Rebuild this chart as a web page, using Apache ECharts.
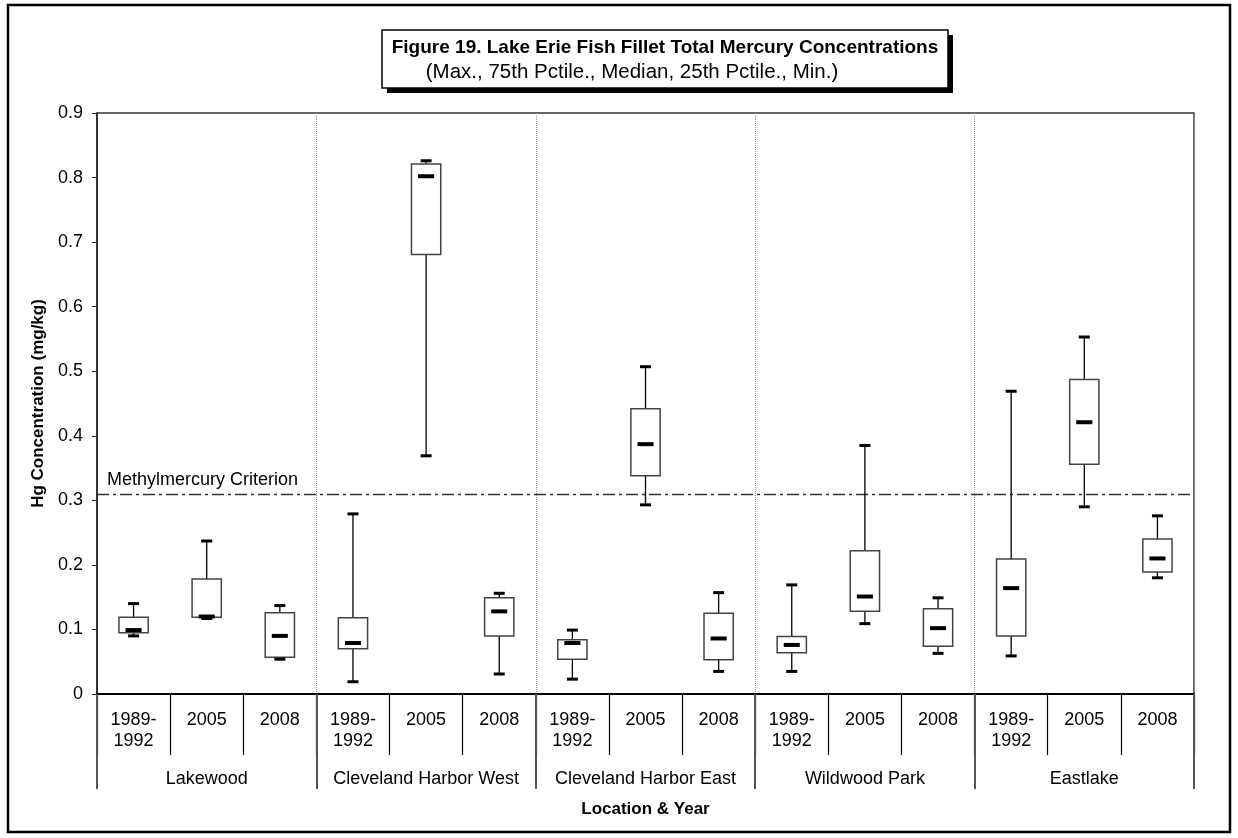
<!DOCTYPE html>
<html>
<head>
<meta charset="utf-8">
<script src="https://cdn.jsdelivr.net/npm/echarts@6/dist/echarts.min.js"></script>
<style>html,body{margin:0;padding:0;background:#fff;}#c{width:1238px;height:838px;}</style>
</head>
<body>
<div id="c"></div>
<script>
const yearLabels = ['1989-\n1992','2005','2008','1989-\n1992','2005','2008','1989-\n1992','2005','2008','1989-\n1992','2005','2008','1989-\n1992','2005','2008'];
const locations = ['Lakewood','Cleveland Harbor West','Cleveland Harbor East','Wildwood Park','Eastlake'];
const minVals = [0.090, 0.117, 0.054, 0.019, 0.369, 0.031, 0.023, 0.293, 0.035, 0.035, 0.109, 0.063, 0.059, 0.290, 0.180];
const q1Vals  = [0.095, 0.119, 0.057, 0.070, 0.681, 0.090, 0.054, 0.338, 0.053, 0.064, 0.128, 0.074, 0.090, 0.356, 0.189];
const medVals = [0.099, 0.120, 0.090, 0.079, 0.802, 0.128, 0.079, 0.387, 0.086, 0.076, 0.151, 0.102, 0.164, 0.421, 0.210];
const q3Vals  = [0.119, 0.178, 0.126, 0.118, 0.821, 0.149, 0.084, 0.442, 0.125, 0.089, 0.222, 0.132, 0.209, 0.487, 0.240];
const maxVals = [0.140, 0.237, 0.137, 0.279, 0.826, 0.156, 0.099, 0.507, 0.157, 0.169, 0.385, 0.149, 0.469, 0.553, 0.276];
const criterion = 0.307;
const yTicks = [0, 0.1, 0.2, 0.3, 0.4, 0.5, 0.6, 0.7, 0.8, 0.9];

const FONT = 'Liberation Sans, Arial, sans-serif';
const data = yearLabels.map((c, i) => [i, minVals[i], q1Vals[i], medVals[i], q3Vals[i], maxVals[i]]);

const chart = echarts.init(document.getElementById('c'), null, {renderer: 'canvas'});

function renderItem(params, api) {
  const i = api.value(0);
  const pLo = api.coord([i, api.value(1)]);
  const pQ1 = api.coord([i, api.value(2)]);
  const pMed = api.coord([i, api.value(3)]);
  const pQ3 = api.coord([i, api.value(4)]);
  const pHi = api.coord([i, api.value(5)]);
  const cw = api.size([1, 0])[0];
  const bw = cw * 0.4;
  const mw = cw * 0.22;
  const capw = cw * 0.15;
  const x = pMed[0];
  const lineStyle = {stroke: '#000', lineWidth: 1.3};
  return {
    type: 'group',
    children: [
      {type: 'line', shape: {x1: x, y1: pHi[1], x2: x, y2: pQ3[1]}, style: lineStyle},
      {type: 'line', shape: {x1: x, y1: pQ1[1], x2: x, y2: pLo[1]}, style: lineStyle},
      {type: 'rect', shape: {x: x - bw / 2, y: pQ3[1], width: bw, height: pQ1[1] - pQ3[1]},
        style: {fill: '#fff', stroke: '#444', lineWidth: 1.5}},
      {type: 'rect', shape: {x: x - capw / 2, y: pHi[1] - 1.5, width: capw, height: 3}, style: {fill: '#000'}},
      {type: 'rect', shape: {x: x - capw / 2, y: pLo[1] - 1.5, width: capw, height: 3}, style: {fill: '#000'}},
      {type: 'rect', shape: {x: x - mw / 2, y: pMed[1] - 2, width: mw, height: 4}, style: {fill: '#000'}}
    ]
  };
}

const option = {
  animation: false,
  backgroundColor: '#fff',
  textStyle: {fontFamily: FONT},
  grid: {left: 97, right: 44, top: 113, bottom: 144, show: true, borderColor: '#333', borderWidth: 1.5, backgroundColor: 'transparent'},
  xAxis: [
    {
      type: 'category', data: yearLabels, position: 'bottom',
      axisLine: {show: true, lineStyle: {color: '#000', width: 2}},
      axisTick: {show: true, interval: 0, length: 61, lineStyle: {color: '#000', width: 1.2}},
      axisLabel: {interval: 0, fontSize: 18, color: '#000', margin: 16, lineHeight: 21, fontFamily: FONT},
      splitLine: {show: false}
    },
    {
      type: 'category', data: locations, position: 'bottom',
      axisLine: {show: false},
      axisTick: {show: true, interval: 0, length: 95, lineStyle: {color: '#555', width: 2}},
      axisLabel: {interval: 0, fontSize: 18, color: '#000', margin: 75, lineHeight: 21, fontFamily: FONT},
      splitLine: {show: true, interval: 0, lineStyle: {color: '#999', type: 'dotted', width: 1}},
      name: 'Location & Year', nameLocation: 'middle', nameGap: 107,
      nameTextStyle: {fontSize: 17, fontWeight: 'bold', color: '#000', fontFamily: FONT}
    }
  ],
  yAxis: {
    type: 'value', min: 0, max: 0.9, interval: 0.1,
    axisLine: {show: true, lineStyle: {color: '#222', width: 1.5}},
    axisTick: {show: true, length: 5, inside: false, lineStyle: {color: '#222'}},
    axisLabel: {fontSize: 18, color: '#000', margin: 14, fontFamily: FONT,
      formatter: v => { const t = yTicks.find(k => Math.abs(k - v) < 1e-6); return t === 0 ? '0' : (t !== undefined ? t.toFixed(1) : ''); }},
    splitLine: {show: false},
    name: 'Hg Concentration (mg/kg)', nameLocation: 'middle', nameGap: 46,
    nameTextStyle: {fontSize: 17, fontWeight: 'bold', color: '#000', fontFamily: FONT}
  },
  series: [{
    type: 'custom', xAxisIndex: 0, yAxisIndex: 0,
    renderItem: renderItem,
    encode: {x: 0, y: [1, 2, 3, 4, 5]},
    data: data,
    z: 5,
    markLine: {
      silent: true, symbol: ['none', 'none'],
      lineStyle: {color: '#333', width: 1.4, type: [12, 4, 3, 4]},
      label: {show: true, position: 'insideStartTop', formatter: 'Methylmercury Criterion', fontSize: 18, color: '#000', fontFamily: FONT, distance: [10, 5]},
      emphasis: {disabled: true},
      data: [{yAxis: criterion}]
    }
  }],
  graphic: [
    {type: 'rect', shape: {x: 8, y: 5, width: 1222, height: 827}, style: {fill: 'none', stroke: '#000', lineWidth: 2.5}, z: 100},
    {type: 'rect', shape: {x: 387, y: 35, width: 566, height: 58}, style: {fill: '#000'}, z: 100},
    {type: 'rect', shape: {x: 382, y: 30, width: 566, height: 58}, style: {fill: '#fff', stroke: '#000', lineWidth: 1.5}, z: 101},
    {type: 'text', x: 665, y: 48, z: 102, style: {text: 'Figure 19. Lake Erie Fish Fillet Total Mercury Concentrations', fontSize: 19, fontWeight: 'bold', fontFamily: FONT, fill: '#000', align: 'center', verticalAlign: 'middle'}},
    {type: 'text', x: 632, y: 72, z: 102, style: {text: '(Max., 75th Pctile., Median, 25th Pctile., Min.)', fontSize: 20.5, fontFamily: FONT, fill: '#000', align: 'center', verticalAlign: 'middle'}}
  ]
};
chart.setOption(option);
</script>
</body>
</html>
